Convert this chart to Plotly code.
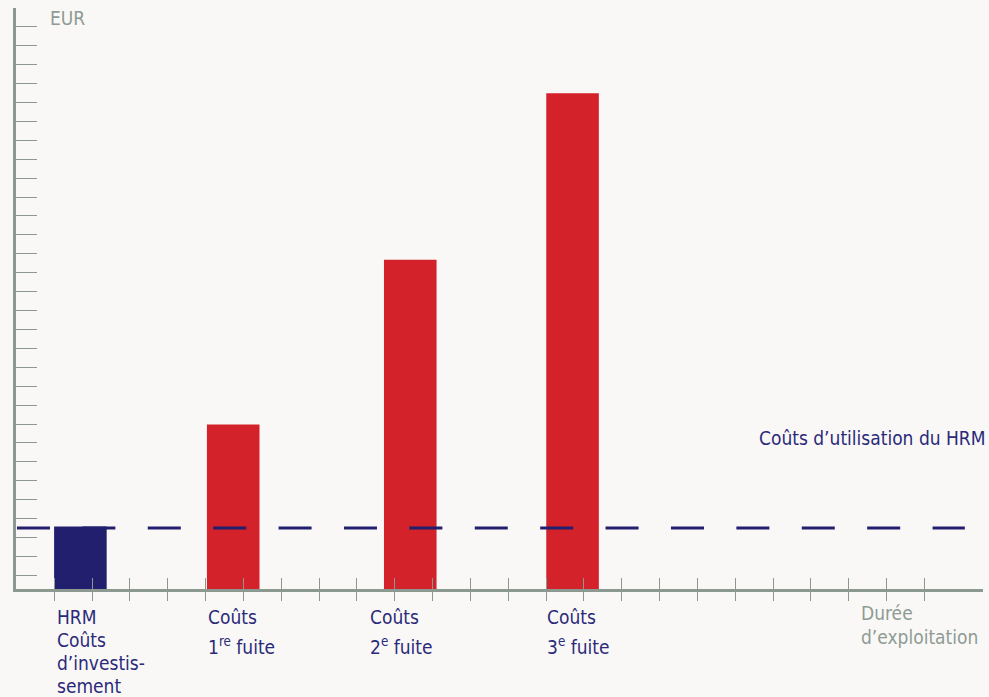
import plotly.graph_objects as go

# ---- data (arbitrary EUR units) ----
categories = [["HRM", "Coûts", "d’investis-", "sement"],
              ["Coûts", "1<sup>re</sup> fuite"],
              ["Coûts", "2<sup>e</sup> fuite"],
              ["Coûts", "3<sup>e</sup> fuite"]]
bar_positions = [0.69, 4.73, 9.41, 13.70]   # position along operating time
bar_values = [3.3, 8.7, 17.4, 26.2]
bar_colors = ["#231f6f", "#d3222a", "#d3222a", "#d3222a"]
label_positions = [0.02, 4.02, 8.29, 12.96]
op_cost_x = [-0.986, 24.07]
op_cost_y = [3.22, 3.22]
op_cost_label = "Coûts d’utilisation du HRM"
x_ticks = list(range(0, 24))
y_unit_label = "EUR"
x_unit_label = ["Durée", "d’exploitation"]

NAVY = "#2b2a7a"
GRAY = "#8e9b94"
AXIS = "#8c9991"
FONT = "DejaVu Sans Condensed, Liberation Sans Narrow, sans-serif"

fig = go.Figure()
fig.add_trace(go.Bar(x=bar_positions, y=bar_values, width=1.39,
                     marker=dict(color=bar_colors, line=dict(width=0)),
                     showlegend=False, hoverinfo="skip"))
fig.add_trace(go.Scatter(x=op_cost_x, y=op_cost_y, mode="lines",
                         line=dict(color="#231f6f", width=3, dash="33px,32.4px"),
                         showlegend=False, hoverinfo="skip"))
fig.add_trace(go.Scatter(x=[None], y=[None], xaxis="x2", showlegend=False))

xr = [-1.012, 24.55]
fig.update_layout(
    width=989, height=697,
    margin=dict(l=16, r=6, t=8, b=108),
    paper_bgcolor="#f9f8f6", plot_bgcolor="rgba(0,0,0,0)",
    font=dict(family=FONT, size=19, color=NAVY),
    xaxis=dict(range=xr, showgrid=False, zeroline=False, showline=True,
               linecolor=AXIS, linewidth=2.5, tickvals=x_ticks, ticks="outside",
               ticklen=9, tickwidth=1.3, tickcolor=AXIS, showticklabels=False),
    xaxis2=dict(range=xr, overlaying="x", anchor="y", side="bottom",
                showgrid=False, zeroline=False, showline=False,
                tickvals=x_ticks, ticks="inside", ticklen=11, tickwidth=1.3,
                tickcolor=AXIS, showticklabels=False),
    yaxis=dict(range=[0, 30.71], showgrid=False, zeroline=False, showline=True,
               linecolor=AXIS, linewidth=2.5, tickmode="linear", tick0=0.72, dtick=1,
               ticks="inside", ticklen=21, tickwidth=1.3, tickcolor=AXIS,
               showticklabels=False),
)


def add_lines(lines, xp, color, first_shift, step):
    for i, ln in enumerate(lines):
        extra = 5 if "<sup>" in ln else 0
        fig.add_annotation(x=xp, y=0, xref="x", yref="y", text=ln, showarrow=False,
                           xanchor="left", yanchor="top",
                           yshift=-(first_shift + step * i + extra), align="left",
                           font=dict(size=19, color=color, family=FONT))


for lines, xp in zip(categories, label_positions):
    add_lines(lines, xp, NAVY, 15, 23)

add_lines(x_unit_label, 21.26, GRAY, 11, 24)

fig.add_annotation(x=-0.16, y=30.71, xref="x", yref="y", text=y_unit_label, showarrow=False,
                   xanchor="left", yanchor="middle", yshift=-9.5,
                   font=dict(size=19, color=GRAY, family=FONT))
fig.add_annotation(x=1, y=8.0, xref="paper", yref="y", text=op_cost_label, showarrow=False,
                   xanchor="right", yanchor="middle", xshift=4,
                   font=dict(size=19, color=NAVY, family=FONT))

fig.write_html("out.html")
